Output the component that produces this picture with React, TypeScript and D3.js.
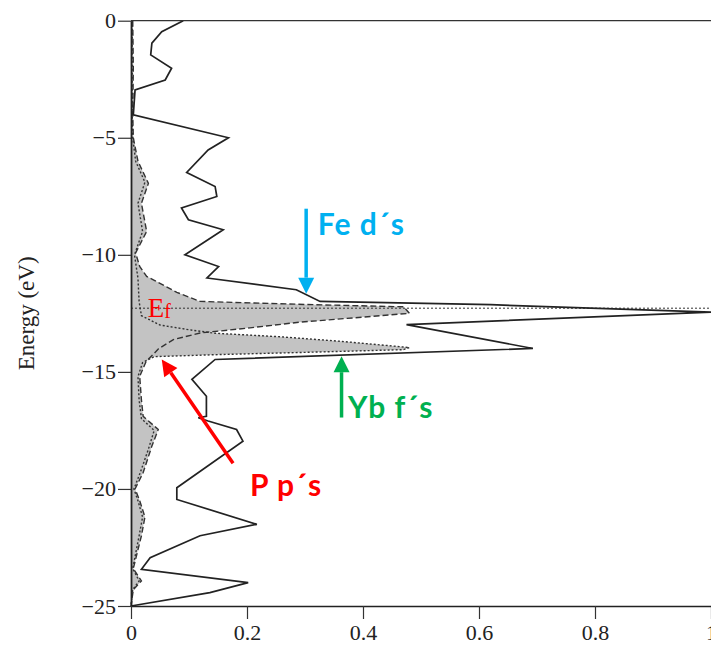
import * as d3 from "d3";
import { useEffect, useRef } from "react";

// total density of states: [energy (eV), value]
const totalDos: [number, number][] = [
  [0, 0.09], [-0.47, 0.053], [-0.96, 0.036], [-1.46, 0.034], [-2.03, 0.07],
  [-2.53, 0.059], [-2.96, 0.007], [-4.02, 0.004], [-5.0, 0.168], [-5.52, 0.133],
  [-6.48, 0.096], [-7.08, 0.145], [-7.51, 0.148], [-8.0, 0.087], [-8.5, 0.099],
  [-8.93, 0.159], [-10.0, 0.093], [-10.5, 0.151], [-10.99, 0.131], [-11.49, 0.285],
  [-11.99, 0.326], [-12.13, 0.62], [-12.45, 1.0], [-12.98, 0.475], [-14.0, 0.693],
  [-14.47, 0.145], [-15.32, 0.105], [-16.04, 0.13], [-16.9, 0.13], [-16.96, 0.116],
  [-17.1, 0.133], [-17.46, 0.182], [-17.96, 0.193], [-19.95, 0.079], [-20.45, 0.079],
  [-21.51, 0.217], [-22.0, 0.119], [-22.94, 0.033], [-23.43, 0.018], [-24.0, 0.202],
  [-24.43, 0.136], [-25, 0],
];

// partial DOS drawn dashed (upper lobe)
const partialDashed: [number, number][] = [
  [0, 0.003], [-2, 0.004], [-4, 0.003], [-5, 0.004], [-6, 0.012], [-6.95, 0.03],
  [-7.8, 0.018], [-9.0, 0.027], [-9.92, 0.008], [-10.5, 0.015], [-10.92, 0.027],
  [-11.1, 0.041], [-11.6, 0.079], [-11.99, 0.119], [-12.12, 0.3], [-12.22, 0.47],
  [-12.5, 0.48], [-12.88, 0.29], [-13.12, 0.205], [-13.34, 0.119], [-13.62, 0.073],
  [-14.02, 0.047], [-14.26, 0.038], [-14.56, 0.026], [-15.19, 0.015], [-16.2, 0.018],
  [-16.9, 0.021], [-17.46, 0.047], [-18.17, 0.036], [-19.3, 0.021], [-20.0, 0.007],
  [-20.5, 0.015], [-21.2, 0.024], [-22.0, 0.018], [-23.4, 0.004], [-23.93, 0.018],
  [-24.3, 0.004], [-25, 0],
];

// partial DOS drawn dotted (lower lobe)
const partialDotted: [number, number][] = [
  [0, 0.002], [-4, 0.002], [-5, 0.003], [-6, 0.008], [-6.9, 0.024], [-7.8, 0.012],
  [-9, 0.02], [-10, 0.006], [-11, 0.012], [-12, 0.014], [-12.6, 0.018], [-13.0, 0.05],
  [-13.2, 0.1], [-13.35, 0.145], [-13.5, 0.257], [-13.7, 0.364], [-13.96, 0.48],
  [-14.05, 0.47], [-14.15, 0.324], [-14.26, 0.153], [-14.35, 0.04], [-14.6, 0.02],
  [-15.2, 0.012], [-16.2, 0.014], [-17.0, 0.018], [-17.5, 0.04], [-18.3, 0.03],
  [-19.3, 0.016], [-20, 0.005], [-20.5, 0.012], [-21.2, 0.02], [-22, 0.014],
  [-23.4, 0.003], [-23.93, 0.014], [-24.3, 0.003], [-25, 0],
];

const energyTicks = [0, -5, -10, -15, -20, -25];
const dosTicks = [0, 0.2, 0.4, 0.6, 0.8, 1];
const fermiLevel = -12.28;

// annotations, in data units: [value, energy]
const arrows = [
  { from: [0.302, -8.03], to: [0.302, -11.66], color: "#00b0f0" },
  { from: [0.363, -16.95], to: [0.363, -14.33], color: "#00b050" },
  { from: [0.176, -18.9], to: [0.053, -14.47], color: "#ff0000" },
];
const labels = [
  { text: "Fe d´s", at: [0.322, -9.14], color: "#00b0f0" },
  { text: "Yb f´s", at: [0.374, -16.99], color: "#00b050" },
  { text: "P p´s", at: [0.205, -20.32], color: "#ff0000" },
];

export default function App() {
  const svgRef = useRef<SVGSVGElement>(null);

  useEffect(() => {
    if (!svgRef.current) return;
    const svg = d3.select(svgRef.current);
    svg.selectAll("*").remove();

    const width = 711;
    const height = 651;
    const x = d3.scaleLinear().domain([0, 1]).range([131, 711]);
    const y = d3.scaleLinear().domain([0, -25]).range([20.7, 606]);

    svg.attr("width", width).attr("height", height);

    const area = d3.area<[number, number]>()
      .y(d => y(d[0]))
      .x0(x(0))
      .x1(d => x(d[1]));
    const line = d3.line<[number, number]>()
      .x(d => x(d[1]))
      .y(d => y(d[0]));

    // shaded partial DOS
    svg.append("path").datum(partialDashed).attr("d", area).attr("fill", "#c3c3c3");
    svg.append("path").datum(partialDotted).attr("d", area).attr("fill", "#c3c3c3");

    // Fermi level
    svg.append("line")
      .attr("x1", x(0)).attr("x2", x(1))
      .attr("y1", y(fermiLevel)).attr("y2", y(fermiLevel))
      .attr("stroke", "#333").attr("stroke-width", 1)
      .attr("stroke-dasharray", "2,2");

    svg.append("path").datum(partialDashed).attr("d", line)
      .attr("fill", "none").attr("stroke", "#333").attr("stroke-width", 1.4)
      .attr("stroke-dasharray", "6,3");
    svg.append("path").datum(partialDotted).attr("d", line)
      .attr("fill", "none").attr("stroke", "#333").attr("stroke-width", 1.4)
      .attr("stroke-dasharray", "2,2");
    svg.append("path").datum(totalDos).attr("d", line)
      .attr("fill", "none").attr("stroke", "#222").attr("stroke-width", 1.7)
      .attr("stroke-linejoin", "miter");

    // frame
    svg.append("line")
      .attr("x1", x(0)).attr("x2", x(1)).attr("y1", y(0)).attr("y2", y(0))
      .attr("stroke", "#333").attr("stroke-width", 1.2);

    const yAxis = svg.append("g")
      .attr("transform", `translate(${x(0)},0)`)
      .call(d3.axisLeft(y).tickValues(energyTicks).tickSize(13).tickSizeOuter(0)
        .tickFormat(d => d3.format("d")(d as number).replace("-", "−")));
    yAxis.select(".domain").attr("stroke", "#222").attr("stroke-width", 1.8);

    const xAxis = svg.append("g")
      .attr("transform", `translate(0,${y(-25)})`)
      .call(d3.axisBottom(x).tickValues(dosTicks).tickSize(13).tickSizeOuter(0)
        .tickFormat(d => (d === 0 || d === 1 ? String(d) : d3.format(".1f")(d as number))));
    xAxis.select(".domain").attr("stroke", "#222").attr("stroke-width", 1.4);

    svg.selectAll(".tick line").attr("stroke", "#333").attr("stroke-width", 1.2);
    svg.selectAll(".tick text")
      .attr("font-family", "'Liberation Serif', serif")
      .attr("font-size", 22)
      .attr("fill", "#222");
    yAxis.selectAll(".tick text").attr("x", -15);
    xAxis.selectAll(".tick text").attr("y", 18);

    svg.append("text")
      .attr("transform", `translate(34,${(y(0) + y(-25)) / 2}) rotate(-90)`)
      .attr("text-anchor", "middle")
      .attr("font-family", "'Liberation Serif', serif")
      .attr("font-size", 23)
      .attr("fill", "#222")
      .text("Energy (eV)");

    // E_f label
    const ef = svg.append("text")
      .attr("x", x(0.029)).attr("y", y(-12.64))
      .attr("font-family", "'Liberation Serif', serif")
      .attr("fill", "#ff0000");
    ef.append("tspan").attr("font-size", 27).text("E");
    ef.append("tspan").attr("font-size", 20).attr("dy", 1).text("f");

    // annotation arrows
    arrows.forEach(a => {
      const x1 = x(a.from[0]), y1 = y(a.from[1]);
      const x2 = x(a.to[0]), y2 = y(a.to[1]);
      const ang = Math.atan2(y2 - y1, x2 - x1);
      const len = 16, half = 8;
      const bx = x2 - len * Math.cos(ang), by = y2 - len * Math.sin(ang);
      svg.append("line")
        .attr("x1", x1).attr("y1", y1).attr("x2", bx).attr("y2", by)
        .attr("stroke", a.color).attr("stroke-width", 3.5);
      const px = -Math.sin(ang) * half, py = Math.cos(ang) * half;
      svg.append("path")
        .attr("d", `M${x2},${y2}L${bx + px},${by + py}L${bx - px},${by - py}Z`)
        .attr("fill", a.color);
    });

    labels.forEach(l => {
      svg.append("text")
        .attr("x", x(l.at[0])).attr("y", y(l.at[1]))
        .attr("font-family", "Lato, 'Open Sans', sans-serif")
        .attr("font-weight", "bold")
        .attr("font-size", 30)
        .attr("letter-spacing", 1)
        .attr("fill", l.color)
        .text(l.text);
    });
  }, []);

  return (
    <svg
      ref={svgRef}
      style={{ position: "absolute", left: 0, top: 0, overflow: "hidden" }}
    />
  );
}
